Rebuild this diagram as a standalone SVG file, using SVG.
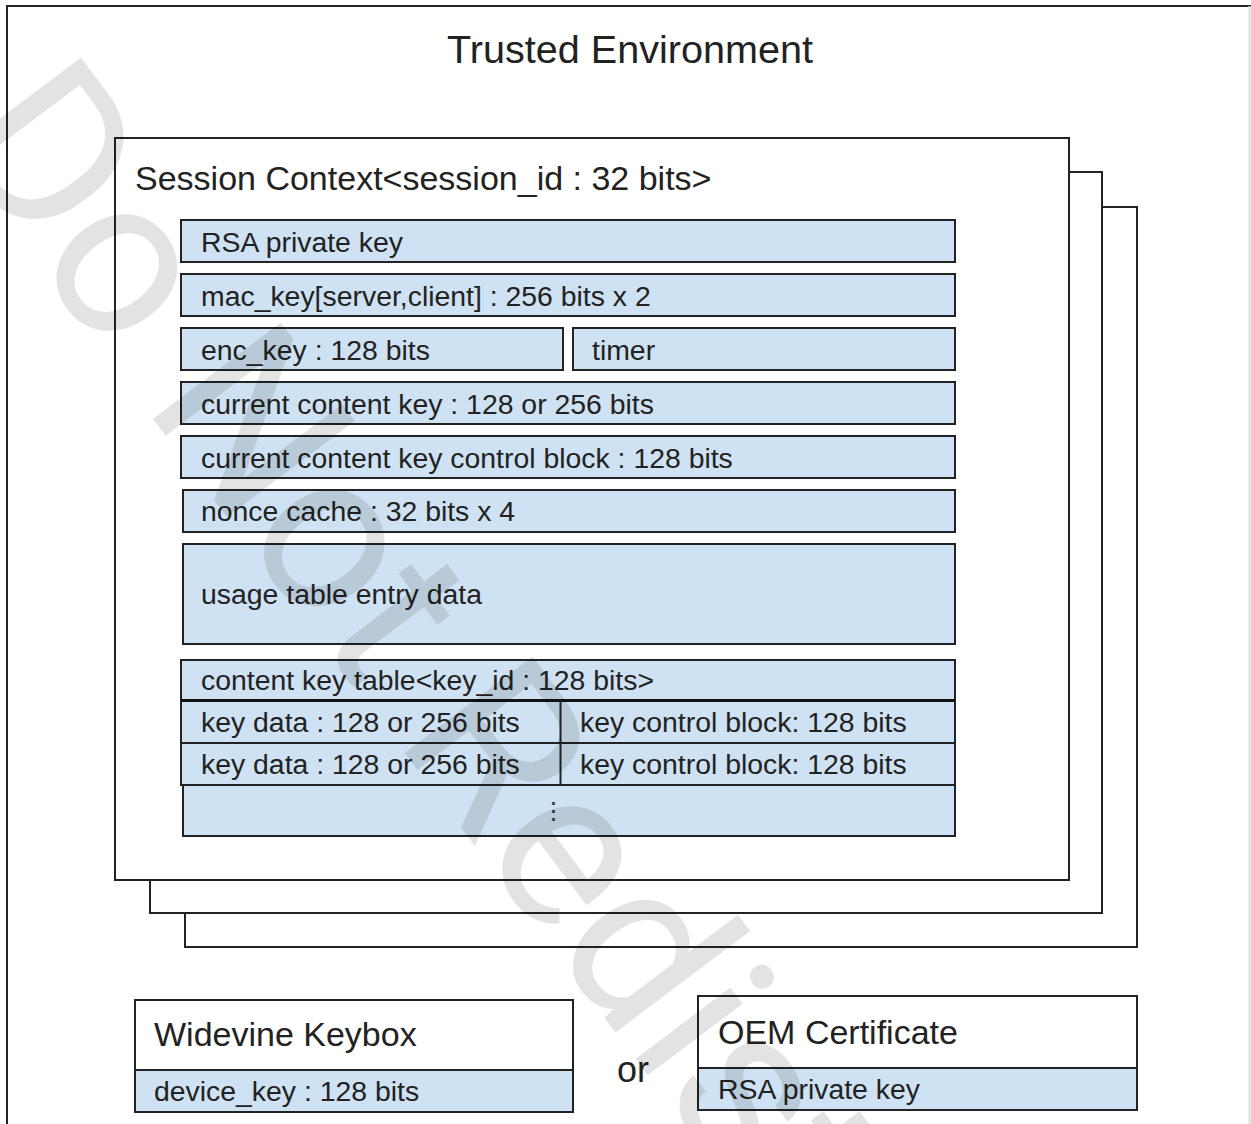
<svg xmlns="http://www.w3.org/2000/svg" width="1251" height="1124" viewBox="0 0 1251 1124">
<style>
.t{font-family:"Liberation Sans",Arial,sans-serif;fill:#222}
.big{font-size:39.6px}
.h{font-size:34px}
.r{font-size:28.4px}
.box{fill:#fff;stroke:#222;stroke-width:2}
.cell{fill:#cfe2f3;stroke:#222;stroke-width:2}
.ln{stroke:#222;stroke-width:2;fill:none}
.wm{font-family:Roboto,"Liberation Sans",sans-serif;font-weight:400;font-size:225px;fill:#000;fill-opacity:0.11}
</style>
<rect width="1251" height="1124" fill="#fff"/>
<g id="trusted-environment">
<path class="ln" d="M7,1124 V6 H1251"/>
<line x1="1249.5" y1="6" x2="1249.5" y2="1124" stroke="#ddd" stroke-width="2"/>
<text class="t big" x="630" y="63" text-anchor="middle">Trusted Environment</text>
</g>
<g id="session-stack-3"><rect class="box" x="185" y="207" width="952" height="740"/></g>
<g id="session-stack-2"><rect class="box" x="150" y="172" width="952" height="741"/></g>
<g id="session-context">
<rect class="box" x="115" y="138" width="954" height="742"/>
<text class="t h" x="135" y="190">Session Context&lt;session_id : 32 bits&gt;</text>
</g>
<g id="rsa-key"><rect class="cell" x="181" y="220" width="774" height="42"/><text class="t r" x="201" y="252">RSA private key</text></g>
<g id="mac-key"><rect class="cell" x="181" y="274" width="774" height="42"/><text class="t r" x="201" y="306">mac_key[server,client] : 256 bits x 2</text></g>
<g id="enc-key"><rect class="cell" x="181" y="328" width="382" height="42"/><text class="t r" x="201" y="360">enc_key : 128 bits</text></g>
<g id="timer"><rect class="cell" x="573" y="328" width="382" height="42"/><text class="t r" x="592" y="360">timer</text></g>
<g id="current-content-key"><rect class="cell" x="181" y="382" width="774" height="42"/><text class="t r" x="201" y="414">current content key : 128 or 256 bits</text></g>
<g id="current-kcb"><rect class="cell" x="181" y="436" width="774" height="42"/><text class="t r" x="201" y="468">current content key control block : 128 bits</text></g>
<g id="nonce-cache"><rect class="cell" x="183" y="490" width="772" height="42"/><text class="t r" x="201" y="521">nonce cache : 32 bits x 4</text></g>
<g id="usage-table"><rect class="cell" x="183" y="544" width="772" height="100"/><text class="t r" x="201" y="604">usage table entry data</text></g>
<g id="content-key-table">
<rect class="cell" x="183" y="785" width="772" height="51"/>
<rect class="cell" x="181" y="660" width="774" height="125"/>
<line x1="181" y1="700.5" x2="955" y2="700.5" stroke="#111" stroke-width="3"/>
<line class="ln" x1="181" y1="743" x2="955" y2="743"/>
<line class="ln" x1="560.5" y1="700" x2="560.5" y2="785"/>
<text class="t r" x="201" y="690">content key table&lt;key_id : 128 bits&gt;</text>
<text class="t r" x="201" y="732">key data : 128 or 256 bits</text>
<text class="t r" x="580" y="732">key control block: 128 bits</text>
<text class="t r" x="201" y="774">key data : 128 or 256 bits</text>
<text class="t r" x="580" y="774">key control block: 128 bits</text>
<text x="553.5" y="819" font-family="DejaVu Sans,sans-serif" font-size="24" fill="#333" text-anchor="middle">⋮</text>
</g>
<g id="widevine-keybox">
<rect class="box" x="135" y="1000" width="438" height="70"/>
<rect class="cell" x="135" y="1070" width="438" height="42"/>
<text class="t h" x="154" y="1046">Widevine Keybox</text>
<text class="t r" x="154" y="1101">device_key : 128 bits</text>
</g>
<g id="or-label"><text class="t" font-size="36" x="617" y="1082">or</text></g>
<g id="oem-certificate">
<rect class="box" x="698" y="996" width="439" height="72"/>
<rect class="cell" x="698" y="1068" width="439" height="42"/>
<text class="t h" x="718" y="1044">OEM Certificate</text>
<text class="t r" x="718" y="1099">RSA private key</text>
</g>
<g id="connectors"></g>
<text class="wm" transform="translate(-58,139) rotate(53)">Do Not Redist</text>
</svg>
